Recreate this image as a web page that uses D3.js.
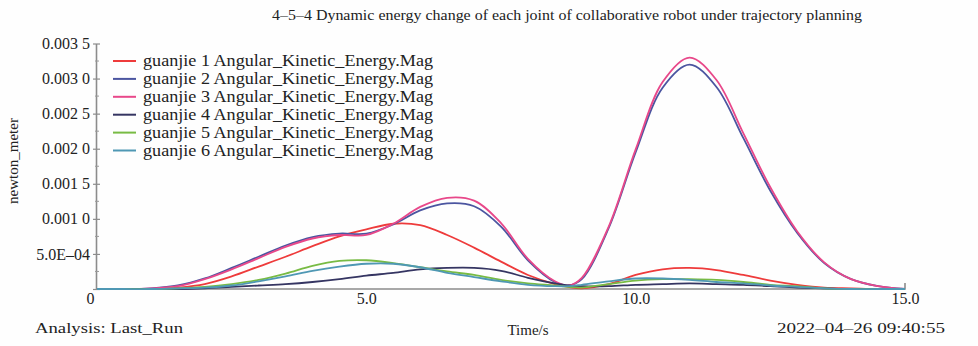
<!DOCTYPE html>
<html>
<head>
<meta charset="utf-8">
<style>
  body { margin: 0; padding: 0; background: #ffffff; }
  svg#chart text, svg#chart .tick text { font-family: "Liberation Serif", "Times New Roman", serif !important; }
</style>
<script src="https://cdn.jsdelivr.net/npm/d3@7"></script>
</head>
<body>
<svg id="chart" width="978" height="346"></svg>
<script>
// Sample times (s)
const times = [0, 0.5, 1, 1.5, 2, 2.5, 3, 3.5, 4, 4.5, 5, 5.5, 6, 6.5, 7, 7.5, 8, 8.5, 8.75, 9, 9.5, 10, 10.5, 11, 11.5, 12, 12.5, 13, 13.5, 14, 14.5, 15];

// Angular kinetic energy magnitude of each joint (newton_meter)
const guanjie1 = [0, 0, 0, 0.00002, 0.00007, 0.00018, 0.00032, 0.00046, 0.00061, 0.00075, 0.00085, 0.00093, 0.00091, 0.00077, 0.00059, 0.00039, 0.0002, 0.00007, 0.00003, 0.00001, 0.00007, 0.0002, 0.00028, 0.0003, 0.00027, 0.0002, 0.00012, 0.00006, 0.00002, 0.00001, 0, 0];
const guanjie2 = [0, 0, 0.00001, 0.00005, 0.00015, 0.0003, 0.00046, 0.00062, 0.00074, 0.00079, 0.00079, 0.00092, 0.00112, 0.00122, 0.00118, 0.00089, 0.00041, 0.0001, 0.00005, 0.00014, 0.00087, 0.00195, 0.00287, 0.0032, 0.00288, 0.00215, 0.0014, 0.0008, 0.00037, 0.00014, 0.00004, 0];
const guanjie3 = [0, 0, 0.00001, 0.00004, 0.00014, 0.00028, 0.00044, 0.0006, 0.00072, 0.00077, 0.00077, 0.00093, 0.00117, 0.0013, 0.00126, 0.00094, 0.00043, 0.00011, 0.00005, 0.00016, 0.00089, 0.00199, 0.00295, 0.0033, 0.00298, 0.00222, 0.00145, 0.00082, 0.00038, 0.00014, 0.00004, 0];
const guanjie4 = [0, 0, 0, 0, 0.00001, 0.00003, 0.00005, 0.00007, 0.0001, 0.00014, 0.00019, 0.00023, 0.00028, 0.0003, 0.0003, 0.00026, 0.00016, 0.00008, 0.00005, 0.00004, 0.00004, 0.00006, 0.00007, 0.00008, 0.00007, 0.00006, 0.00004, 0.00002, 0.00001, 0, 0, 0];
const guanjie5 = [0, 0, 0, 0.00001, 0.00003, 0.00007, 0.00013, 0.00022, 0.00033, 0.0004, 0.00041, 0.00037, 0.00031, 0.00025, 0.0002, 0.00013, 0.00008, 0.00005, 0.00003, 0.00002, 0.00007, 0.00012, 0.00014, 0.00014, 0.00013, 0.0001, 0.00006, 0.00004, 0.00001, 0, 0, 0];
const guanjie6 = [0, 0, 0, 0.00001, 0.00002, 0.00005, 0.00011, 0.00018, 0.00026, 0.00032, 0.00036, 0.00036, 0.00031, 0.00023, 0.00017, 0.00011, 0.00006, 0.00004, 0.00004, 0.00006, 0.00011, 0.00015, 0.00015, 0.00013, 0.0001, 0.00008, 0.00005, 0.00003, 0.00001, 0, 0, 0];

const seriesNames = [
  "guanjie 1 Angular_Kinetic_Energy.Mag",
  "guanjie 2 Angular_Kinetic_Energy.Mag",
  "guanjie 3 Angular_Kinetic_Energy.Mag",
  "guanjie 4 Angular_Kinetic_Energy.Mag",
  "guanjie 5 Angular_Kinetic_Energy.Mag",
  "guanjie 6 Angular_Kinetic_Energy.Mag"
];
const seriesValues = [guanjie1, guanjie2, guanjie3, guanjie4, guanjie5, guanjie6];
const seriesColors = ["#ee3b3b", "#4b55a0", "#e8488a", "#353562", "#78bb44", "#4f98b4"];

// Axis ticks and labels
const yTicks = [0, 0.0005, 0.001, 0.0015, 0.002, 0.0025, 0.003, 0.0035];
const yTickLabels = ["", "5.0E\u201304", "0.001 0", "0.001 5", "0.002 0", "0.002 5", "0.003 0", "0.003 5"];
const yMinorTicks = [0.00025, 0.00075, 0.00125, 0.00175, 0.00225, 0.00275, 0.00325];
const xTicks = [0, 5, 10, 15];
const xTickLabels = ["0", "5.0", "10.0", "15.0"];

const titleText = "4\u20135\u20134 Dynamic energy change of each joint of collaborative robot under trajectory planning";
const yAxisTitle = "newton_meter";
const xAxisTitle = "Time/s";
const runLabel = "Analysis: Last_Run";
const stampLabel = "2022\u201304\u201326 09:40:55";

const SERIF = "font-family: 'Liberation Serif', 'Times New Roman', serif !important;";
const INK = "#222222";

const svg = d3.select("#chart");
svg.append("rect").attr("width", 978).attr("height", 346).attr("fill", "#fefefe");

const x = d3.scaleLinear().domain([0, 15]).range([97, 905]);
const y = d3.scaleLinear().domain([0, 0.0035]).range([289, 43.5]);

function label(sel) {
  return sel.attr("font-family", "Liberation Serif").attr("style", SERIF).attr("fill", INK);
}

// Title
svg.append("text")
  .call(label)
  .attr("x", 567).attr("y", 20)
  .attr("text-anchor", "middle")
  .attr("font-size", 15)
  .attr("textLength", 590).attr("lengthAdjust", "spacingAndGlyphs")
  .text(titleText);

// Y axis
const yAxis = d3.axisLeft(y)
  .tickValues(yTicks)
  .tickFormat((d, i) => yTickLabels[i])
  .tickSizeInner(4).tickSizeOuter(0).tickPadding(3);
const gy = svg.append("g").attr("transform", "translate(96,0)").call(yAxis)
  .attr("font-family", "Liberation Serif");
gy.select(".domain").attr("stroke", "#8c8c8c").attr("stroke-width", 1.6);
gy.selectAll(".tick line").attr("stroke", "#8c8c8c").attr("x2", 4).attr("x1", -3).attr("stroke-width", 1.2);
gy.selectAll(".tick text").call(label).attr("font-size", 16).attr("x", -6);
gy.selectAll(".minor").data(yMinorTicks).enter().append("line")
  .attr("class", "minor")
  .attr("x1", -1).attr("x2", 3)
  .attr("y1", d => y(d)).attr("y2", d => y(d))
  .attr("stroke", "#9a9a9a").attr("stroke-width", 1);

// X axis
const xAxis = d3.axisBottom(x)
  .tickValues(xTicks)
  .tickFormat((d, i) => xTickLabels[i])
  .tickSizeInner(0).tickSizeOuter(0).tickPadding(4);
const gx = svg.append("g").attr("transform", "translate(0,289)").call(xAxis)
  .attr("font-family", "Liberation Serif");
gx.select(".domain").attr("stroke", "#8c8c8c").attr("stroke-width", 1.6)
  .attr("d", `M96,0H${x(15)}V-6`);
gx.selectAll(".tick text").call(label).attr("font-size", 16)
  .attr("dx", (d, i) => i === 0 ? -7 : 0);

// Curves
const line = d3.line()
  .x((d, i) => x(times[i]))
  .y(d => y(d))
  .curve(d3.curveCatmullRom.alpha(0.5));

svg.append("g").selectAll("path")
  .data(seriesValues)
  .enter().append("path")
  .attr("d", d => line(d))
  .attr("fill", "none")
  .attr("stroke", (d, i) => seriesColors[i])
  .attr("stroke-width", 1.8)
  .attr("stroke-linejoin", "round");

// Legend
const legend = svg.append("g");
seriesNames.forEach((name, i) => {
  const cy = 61 + i * 17.9;
  legend.append("line")
    .attr("x1", 113).attr("x2", 136)
    .attr("y1", cy).attr("y2", cy)
    .attr("stroke", seriesColors[i]).attr("stroke-width", 2);
  legend.append("text")
    .call(label)
    .attr("x", 143).attr("y", cy + 5)
    .attr("font-size", 16.5)
    .attr("textLength", 290).attr("lengthAdjust", "spacingAndGlyphs")
    .text(name);
});

// Axis titles and footer
svg.append("text")
  .call(label)
  .attr("transform", "translate(18,161) rotate(-90)")
  .attr("text-anchor", "middle")
  .attr("font-size", 15)
  .text(yAxisTitle);

svg.append("text")
  .call(label)
  .attr("x", 528).attr("y", 335)
  .attr("text-anchor", "middle")
  .attr("font-size", 15)
  .text(xAxisTitle);

svg.append("text")
  .call(label)
  .attr("x", 35).attr("y", 333)
  .attr("font-size", 15)
  .attr("textLength", 148).attr("lengthAdjust", "spacingAndGlyphs")
  .text(runLabel);

svg.append("text")
  .call(label)
  .attr("x", 945).attr("y", 333)
  .attr("text-anchor", "end")
  .attr("font-size", 15)
  .attr("textLength", 168).attr("lengthAdjust", "spacingAndGlyphs")
  .text(stampLabel);
</script>
</body>
</html>
